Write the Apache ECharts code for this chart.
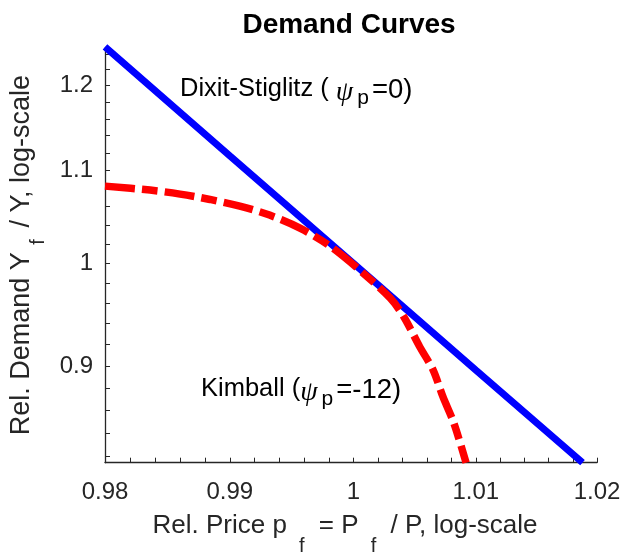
<!DOCTYPE html>
<html>
<head>
<meta charset="utf-8">
<script src="https://cdn.jsdelivr.net/npm/echarts@6/dist/echarts.min.js"></script>
<style>
  html, body { margin: 0; padding: 0; background: #fff; }
  #chart { width: 624px; height: 552px; }
</style>
</head>
<body>
<div id="chart"></div>
<script>
// values
var dixitPrice = [0.98, 0.99, 1.00, 1.01, 1.0188];
var dixitDemand = [1.2488, 1.1166, 1.00, 0.8963, 0.8150];

var kimballPrice = [0.98, 0.9836, 0.9860, 0.9884, 0.9908, 0.9932, 0.9957, 0.9981,
  1.0005, 1.0030, 1.0041, 1.0054, 1.0065, 1.0073, 1.0082, 1.0092];
var kimballDemand = [1.0825, 1.0781, 1.0737, 1.0678, 1.0605, 1.0508, 1.0366, 1.0179,
  0.9932, 0.9650, 0.9467, 0.9180, 0.8963, 0.8721, 0.8487, 0.8150];

var xLabelValues = [0.98, 0.99, 1, 1.01, 1.02];
var xTickValues = [0.98, 0.982, 0.984, 0.986, 0.988, 0.99, 0.992, 0.994, 0.996, 0.998, 1,
  1.002, 1.004, 1.006, 1.008, 1.01, 1.012, 1.014, 1.016, 1.018, 1.02];
var yLabelValues = [0.9, 1, 1.1, 1.2];
var yTickValues = [0.82, 0.84, 0.86, 0.88, 0.9, 0.92, 0.94, 0.96, 0.98, 1, 1.02, 1.04,
  1.06, 1.08, 1.1, 1.12, 1.14, 1.16, 1.18, 1.2, 1.22, 1.24];

var xMin = 0.98, xMax = 1.02;
var yMin = 0.815, yMax = 1.248;

var FONT = '"Liberation Sans", Arial, Helvetica, sans-serif';
var INK = '#262626';

function zip(a, b) {
  return a.map(function (v, i) { return [v, b[i]]; });
}

// rich text pieces: subscripts pushed down with top padding
function richSet(color, mainSize, subSize, subDrop, padL, padR) {
  return {
    a: { fontFamily: FONT, fontSize: mainSize, color: color, lineHeight: 25.5, verticalAlign: 'top' },
    e: { fontFamily: FONT, fontSize: mainSize, color: color, lineHeight: 25.5, verticalAlign: 'top', padding: [0, 12, 0, 0] },
    b: { fontFamily: FONT, fontSize: mainSize + 2, color: color, lineHeight: 25.5, verticalAlign: 'top' },
    g: { fontFamily: '"Liberation Serif", serif', fontStyle: 'italic', fontSize: 28, color: color,
         lineHeight: 28, verticalAlign: 'top', padding: [3, 0, 0, 0] },
    s: { fontFamily: FONT, fontSize: subSize, color: color, lineHeight: subSize + subDrop,
         verticalAlign: 'top', padding: [subDrop, padR, 0, padL] }
  };
}

var chart = echarts.init(document.getElementById('chart'), null, { renderer: 'canvas' });

var option = {
  backgroundColor: '#fff',
  animation: false,
  title: {
    text: 'Demand Curves',
    left: 349,
    textAlign: 'center',
    top: 11,
    padding: 0,
    textStyle: { fontFamily: FONT, fontSize: 28, fontWeight: 'bold', color: '#000' }
  },
  grid: { left: 105, right: 27, top: 47.5, bottom: 89.3, outerBoundsMode: 'none', containLabel: false },
  xAxis: {
    type: 'log',
    logBase: 10,
    min: xMin,
    max: xMax,
    name: '{a|Rel. Price p }{s|f}{a| = P }{s|f}{e| / P, log-scale}',
    nameLocation: 'middle',
    nameGap: 50,
    nameTextStyle: {
      fontFamily: FONT, fontSize: 26, color: INK,
      rich: richSet(INK, 26, 20, 24, 5, 7)
    },
    axisLine: { show: true, lineStyle: { color: INK, width: 1.3 } },
    axisTick: { show: true, inside: true, length: 5, customValues: xTickValues, lineStyle: { color: INK, width: 1 } },
    minorTick: { show: false },
    axisLabel: {
      customValues: xLabelValues,
      margin: 18,
      fontFamily: FONT, fontSize: 24, color: INK,
      formatter: function (v) { return String(v); }
    },
    splitLine: { show: false }
  },
  yAxis: {
    type: 'log',
    logBase: 10,
    min: yMin,
    max: yMax,
    name: '{a|Rel. Demand Y }{s|f}{a| / Y, log-scale}',
    nameLocation: 'middle',
    nameGap: 53,
    nameTextStyle: {
      fontFamily: FONT, fontSize: 27, color: INK,
      rich: richSet(INK, 27, 20, 21, 0, 4)
    },
    axisLine: { show: true, lineStyle: { color: INK, width: 1.3 } },
    axisTick: { show: true, inside: true, length: 5, customValues: yTickValues, lineStyle: { color: INK, width: 1 } },
    minorTick: { show: false },
    axisLabel: {
      customValues: yLabelValues,
      margin: 12,
      fontFamily: FONT, fontSize: 24, color: INK,
      formatter: function (v) { return String(v); }
    },
    splitLine: { show: false }
  },
  series: [
    {
      name: 'Dixit-Stiglitz',
      type: 'line',
      data: zip(dixitPrice, dixitDemand),
      showSymbol: false,
      clip: false,
      z: 2,
      lineStyle: { color: '#0000ff', width: 7, cap: 'butt' }
    },
    {
      name: 'Kimball',
      type: 'line',
      data: zip(kimballPrice, kimballDemand),
      showSymbol: false,
      smooth: 0.3,
      clip: false,
      z: 3,
      lineStyle: { color: '#ff0000', width: 7.5, type: [30, 7, 16, 7], cap: 'butt' }
    }
  ],
  graphic: [
    {
      type: 'text',
      left: 180,
      top: 76,
      style: {
        text: '{a|Dixit-Stiglitz ( }{g|ψ}{s|p}{b|=0)}',
        rich: richSet('#000', 25.5, 21, 12, 4, 3)
      }
    },
    {
      type: 'text',
      left: 201,
      top: 376,
      style: {
        text: '{a|Kimball (}{g|ψ}{s|p}{b|=-12)}',
        rich: richSet('#000', 25.5, 21, 13, 4, 3)
      }
    }
  ]
};

chart.setOption(option);
</script>
</body>
</html>
